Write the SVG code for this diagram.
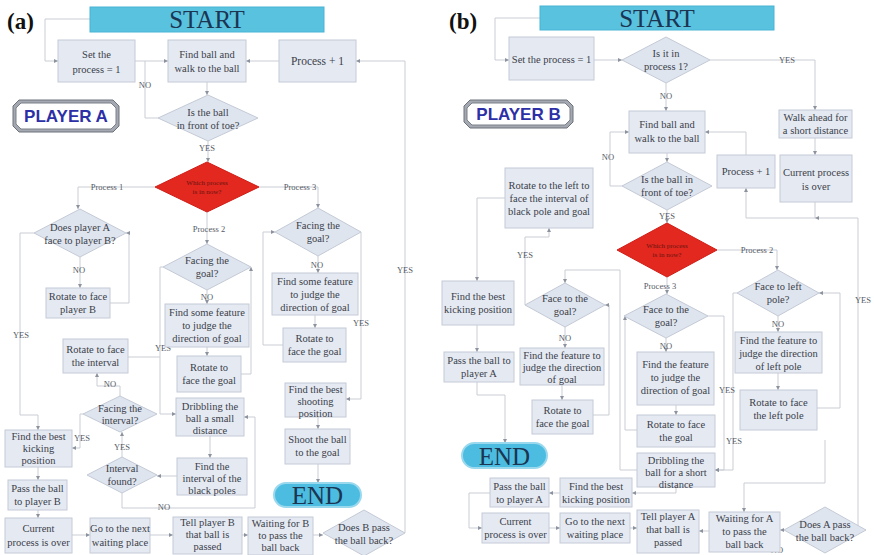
<svg xmlns="http://www.w3.org/2000/svg" width="874" height="555" viewBox="0 0 874 555">
<defs>
<marker id="ar" markerWidth="5" markerHeight="5" refX="4" refY="2.5" orient="auto" markerUnits="userSpaceOnUse"><path d="M0,0.5 L4,2.5 L0,4.5z" fill="#8d939e"/></marker>
<style>
.bx{fill:#e5eaf2;stroke:#c4cad6;stroke-width:1}
.dm{fill:#dfe5ee;stroke:#c4cad6;stroke-width:1}
.t{font-family:"Liberation Serif",serif;font-size:10.5px;fill:#3b404a;text-anchor:middle}
.lb{font-family:"Liberation Serif",serif;font-size:8.5px;fill:#555b66;text-anchor:middle}
.c{fill:none;stroke:#c9cdd4;stroke-width:1}
.ca{fill:none;stroke:#c9cdd4;stroke-width:1;marker-end:url(#ar)}
.st{fill:#58c2df;stroke:#48b4d4}
.big{font-family:"Liberation Serif",serif;font-size:25px;fill:#1b3552;text-anchor:middle}
.red{fill:#e2281f;stroke:#d01e18}
.rt{font-family:"Liberation Serif",serif;font-size:7px;fill:#6a1410;text-anchor:middle}
.end{fill:#4cbde0;stroke:#9ad8ee;stroke-width:2}
.pl{font-family:"Liberation Sans",sans-serif;font-weight:bold;font-size:17px;fill:#2d2fa6;text-anchor:middle}
.hd{font-family:"Liberation Serif",serif;font-weight:bold;font-size:23px;fill:#111}
</style>
</defs>
<rect width="874" height="555" fill="#ffffff"/>
<text class="hd" x="7" y="29">(a)</text>
<text class="hd" x="449" y="29">(b)</text>

<g id="connectors">
<!-- panel a -->
<path class="ca" d="M90,19 H45 V61 H58"/>
<path class="ca" d="M135,61 H168"/>
<path class="ca" d="M279,61 H246"/>
<path class="ca" d="M207,82 V95"/>
<path class="c" d="M158,118 H145 V61"/>
<path class="ca" d="M208,141 V162"/>
<path class="ca" d="M155,187 H78 V209"/>
<path class="ca" d="M259,187 H318 V208"/>
<path class="ca" d="M207,212 V244"/>
<path class="ca" d="M80,257 V288"/>
<path class="ca" d="M110,303 H129 V233 H126"/>
<path class="ca" d="M34,233 H20 V415 H38 V430"/>
<path class="ca" d="M207,290 V304"/>
<path class="ca" d="M207,347 V356"/>
<path class="ca" d="M241,374 H251 V267"/>
<path class="ca" d="M163,267 H160 V414 H176"/>
<path class="c" d="M128,357 H160"/>
<path class="ca" d="M120,396 V386 H97 V373"/>
<path class="ca" d="M210,436 V458"/>
<path class="ca" d="M177,476 H157"/>
<path class="ca" d="M122,493 V508 H255 V417 H244"/>
<path class="ca" d="M122,457 V432"/>
<path class="ca" d="M83,414 H80 V448 H72"/>
<path class="ca" d="M38,467 V480"/>
<path class="ca" d="M38,510 V518"/>
<path class="ca" d="M72,535 H90"/>
<path class="ca" d="M150,535 H173"/>
<path class="ca" d="M242,535 H248"/>
<path class="ca" d="M313,535 H323"/>
<path class="ca" d="M405,533 V61 H356"/>
<path class="ca" d="M318,256 V273"/>
<path class="ca" d="M315,315 V328"/>
<path class="ca" d="M283,345 H263 V232 H275"/>
<path class="ca" d="M361,232 V399 H346"/>
<path class="ca" d="M318,417 V429"/>
<path class="ca" d="M318,464 V483"/>
<!-- panel b -->
<path class="ca" d="M540,18 H495 V60 H509"/>
<path class="ca" d="M594,60 H622"/>
<path class="ca" d="M666,83 V111"/>
<path class="ca" d="M710,60 H815 V110"/>
<path class="ca" d="M815,138 V155"/>
<path class="ca" d="M815,202 V218 H746 V188"/>
<path class="ca" d="M746,155 V132 H705"/>
<path class="ca" d="M667,153 V162"/>
<path class="ca" d="M622,186 H610 V132 H629"/>
<path class="ca" d="M667,210 V223"/>
<path class="ca" d="M717,250 H777 V270"/>
<path class="ca" d="M667,277 V294"/>
<path class="ca" d="M778,316 V332"/>
<path class="ca" d="M778,373 V390"/>
<path class="ca" d="M817,408 H840 V293 H819"/>
<path class="ca" d="M737,293 H733 V470 H715"/>
<path class="ca" d="M666,338 V352"/>
<path class="ca" d="M676,405 V415"/>
<path class="ca" d="M637,430 H625 V316"/>
<path class="ca" d="M708,316 H724 V470 H715"/>
<path class="ca" d="M637,470 H620 V270 H565 V283"/>
<path class="ca" d="M565,327 V348"/>
<path class="ca" d="M562,385 V400"/>
<path class="ca" d="M593,415 H609 V305 H605"/>
<path class="ca" d="M525,305 V237 H549 V228"/>
<path class="ca" d="M505,198 H477 V281"/>
<path class="ca" d="M477,325 V352"/>
<path class="ca" d="M477,382 V395 H505 V443"/>
<path class="ca" d="M560,493 H549"/>
<path class="ca" d="M676,487 V493 H632"/>
<path class="ca" d="M490,493 H469 V528 H482"/>
<path class="ca" d="M549,528 H560"/>
<path class="ca" d="M630,528 H637"/>
<path class="ca" d="M709,531 H699"/>
<path class="ca" d="M784,530 H780"/>
<path class="ca" d="M825,440 V483 H744 V512"/>
<path class="ca" d="M866,530 H858 V218 H815"/>
</g>

<g id="labels">
<text class="lb" x="145" y="88">NO</text>
<text class="lb" x="207" y="151">YES</text>
<text class="lb" x="107" y="190">Process 1</text>
<text class="lb" x="300" y="190">Process 3</text>
<text class="lb" x="209" y="232">Process 2</text>
<text class="lb" x="79" y="273">NO</text>
<text class="lb" x="21" y="338">YES</text>
<text class="lb" x="207" y="300">NO</text>
<text class="lb" x="317" y="268">NO</text>
<text class="lb" x="361" y="326">YES</text>
<text class="lb" x="405" y="273">YES</text>
<text class="lb" x="163" y="351">YES</text>
<text class="lb" x="110" y="387">NO</text>
<text class="lb" x="122" y="450">YES</text>
<text class="lb" x="82" y="441">YES</text>
<text class="lb" x="164" y="510">NO</text>
<text class="lb" x="666" y="99">NO</text>
<text class="lb" x="787" y="63">YES</text>
<text class="lb" x="608" y="160">NO</text>
<text class="lb" x="667" y="219">YES</text>
<text class="lb" x="757" y="253">Process 2</text>
<text class="lb" x="660" y="289">Process 3</text>
<text class="lb" x="778" y="327">NO</text>
<text class="lb" x="863" y="303">YES</text>
<text class="lb" x="666" y="349">NO</text>
<text class="lb" x="727" y="393">YES</text>
<text class="lb" x="734" y="444">YES</text>
<text class="lb" x="525" y="258">YES</text>
<text class="lb" x="565" y="341">NO</text>
<text class="lb" x="777" y="553">NO</text>
</g>

<!-- ========== panel a nodes ========== -->
<g id="startA"><rect class="st" x="90" y="7" width="234" height="25"/><text class="big" x="207" y="28">START</text></g>
<g id="setA"><rect class="bx" x="58" y="40" width="77" height="42"/><text class="t" x="96.5" y="58">Set the</text><text class="t" x="96.5" y="73">process = 1</text></g>
<g id="findA"><rect class="bx" x="168" y="40" width="78" height="42"/><text class="t" x="207" y="58">Find ball and</text><text class="t" x="207" y="72">walk to the ball</text></g>
<g id="procA"><rect class="bx" x="279" y="40" width="77" height="42"/><text class="t" x="317.5" y="65" style="font-size:11.5px">Process + 1</text></g>
<g id="toeA"><polygon class="dm" points="158,118 208,95 258,118 208,141"/><text class="t" x="208" y="116">Is the ball</text><text class="t" x="208" y="129">in front of toe?</text></g>
<g id="redA"><polygon class="red" points="155,187 207,162 259,187 207,212"/><text class="rt" x="207" y="185">Which process</text><text class="rt" x="207" y="194">is in now?</text></g>
<g id="p1A"><polygon class="dm" points="34,233 80,209 126,233 80,257"/><text class="t" x="80" y="231">Does player A</text><text class="t" x="80" y="244">face to player B?</text></g>
<g id="rotBA"><rect class="bx" x="46" y="288" width="64" height="30"/><text class="t" x="78" y="300">Rotate to face</text><text class="t" x="78" y="313">player B</text></g>
<g id="fg2A"><polygon class="dm" points="163,267 207,244 251,267 207,290"/><text class="t" x="207" y="264">Facing the</text><text class="t" x="207" y="277">goal?</text></g>
<g id="ff2A"><rect class="bx" x="165" y="304" width="84" height="43"/><text class="t" x="207" y="316">Find some feature</text><text class="t" x="207" y="329">to judge the</text><text class="t" x="207" y="342">direction of goal</text></g>
<g id="rg2A"><rect class="bx" x="177" y="356" width="64" height="36"/><text class="t" x="209" y="371">Rotate to</text><text class="t" x="209" y="384">face the goal</text></g>
<g id="riA"><rect class="bx" x="63" y="339" width="65" height="34"/><text class="t" x="95.5" y="353">Rotate to face</text><text class="t" x="95.5" y="366">the interval</text></g>
<g id="fiA"><polygon class="dm" points="83,414 120,396 157,414 120,432"/><text class="t" x="120" y="412">Facing the</text><text class="t" x="120" y="424">interval?</text></g>
<g id="dribA"><rect class="bx" x="176" y="398" width="68" height="38"/><text class="t" x="210" y="410">Dribbling the</text><text class="t" x="210" y="422">ball a small</text><text class="t" x="210" y="434">distance</text></g>
<g id="ifA"><polygon class="dm" points="87,475 122,457 157,475 122,493"/><text class="t" x="122" y="472">Interval</text><text class="t" x="122" y="485">found?</text></g>
<g id="fintA"><rect class="bx" x="177" y="458" width="70" height="37"/><text class="t" x="212" y="470">Find the</text><text class="t" x="212" y="482">interval of the</text><text class="t" x="212" y="494">black poles</text></g>
<g id="kickA"><rect class="bx" x="5" y="430" width="67" height="37"/><text class="t" x="38.5" y="440">Find the best</text><text class="t" x="38.5" y="452">kicking</text><text class="t" x="38.5" y="464">position</text></g>
<g id="passA"><rect class="bx" x="8" y="480" width="59" height="30"/><text class="t" x="37.5" y="492">Pass the ball</text><text class="t" x="37.5" y="505">to player B</text></g>
<g id="curA"><rect class="bx" x="5" y="518" width="67" height="35"/><text class="t" x="38.5" y="532">Current</text><text class="t" x="38.5" y="546">process is over</text></g>
<g id="goA"><rect class="bx" x="90" y="518" width="60" height="35"/><text class="t" x="120" y="532">Go to the next</text><text class="t" x="120" y="546">waiting place</text></g>
<g id="tellA"><rect class="bx" x="173" y="517" width="69" height="37"/><text class="t" x="207.5" y="526">Tell player B</text><text class="t" x="207.5" y="538">that ball is</text><text class="t" x="207.5" y="550">passed</text></g>
<g id="waitA"><rect class="bx" x="248" y="517" width="65" height="38"/><text class="t" x="280.5" y="527">Waiting for B</text><text class="t" x="280.5" y="539">to pass the</text><text class="t" x="280.5" y="551">ball back</text></g>
<g id="doesBA"><polygon class="dm" points="323,533 364,510 405,533 364,556"/><text class="t" x="364" y="531">Does B pass</text><text class="t" x="364" y="544">the ball back?</text></g>
<g id="fg3A"><polygon class="dm" points="275,232 318,208 361,232 318,256"/><text class="t" x="318" y="229">Facing the</text><text class="t" x="318" y="242">goal?</text></g>
<g id="ff3A"><rect class="bx" x="272" y="273" width="86" height="42"/><text class="t" x="315" y="285">Find some feature</text><text class="t" x="315" y="298">to judge the</text><text class="t" x="315" y="311">direction of goal</text></g>
<g id="rg3A"><rect class="bx" x="283" y="328" width="63" height="34"/><text class="t" x="314.5" y="342">Rotate to</text><text class="t" x="314.5" y="355">face the goal</text></g>
<g id="shootposA"><rect class="bx" x="285" y="383" width="61" height="34"/><text class="t" x="315.5" y="393">Find the best</text><text class="t" x="315.5" y="405">shooting</text><text class="t" x="315.5" y="417">position</text></g>
<g id="shootA"><rect class="bx" x="285" y="429" width="65" height="35"/><text class="t" x="317.5" y="443">Shoot the ball</text><text class="t" x="317.5" y="456">to the goal</text></g>
<g id="endA"><rect class="end" x="274" y="483" width="87" height="24" rx="12"/><text class="big" x="317.5" y="504">END</text></g>
<g id="playerA"><polygon points="19,100 113,100 119,106 119,126 113,132 19,132 13,126 13,106" fill="#a4a8b0" stroke="#6d727c"/><polygon points="21,103 111,103 116,108 116,124 111,129 21,129 16,124 16,108" fill="#ffffff" stroke="#7b8089"/><text class="pl" x="66" y="122">PLAYER A</text></g>

<!-- ========== panel b nodes ========== -->
<g id="startB"><rect class="st" x="540" y="6" width="234" height="24"/><text class="big" x="657" y="27">START</text></g>
<g id="setB"><rect class="bx" x="509" y="37" width="85" height="43"/><text class="t" x="551.5" y="63">Set the process = 1</text></g>
<g id="proc1B"><polygon class="dm" points="622,60 666,37 710,60 666,83"/><text class="t" x="666" y="57">Is it in</text><text class="t" x="666" y="70">process 1?</text></g>
<g id="walkB"><rect class="bx" x="779" y="110" width="73" height="28"/><text class="t" x="815.5" y="121">Walk ahead  for</text><text class="t" x="815.5" y="134">a short distance</text></g>
<g id="curTopB"><rect class="bx" x="780" y="155" width="72" height="47"/><text class="t" x="816" y="176">Current process</text><text class="t" x="816" y="190">is over</text></g>
<g id="findB"><rect class="bx" x="629" y="111" width="76" height="42"/><text class="t" x="667" y="128">Find ball and</text><text class="t" x="667" y="142">walk to the ball</text></g>
<g id="procB"><rect class="bx" x="717" y="155" width="58" height="33"/><text class="t" x="746" y="175">Process + 1</text></g>
<g id="toeB"><polygon class="dm" points="622,186 667,162 712,186 667,210"/><text class="t" x="667" y="183">Is the ball in</text><text class="t" x="667" y="196">front of toe?</text></g>
<g id="redB"><polygon class="red" points="617,250 667,223 717,250 667,277"/><text class="rt" x="667" y="248">Which process</text><text class="rt" x="667" y="257">is in now?</text></g>
<g id="lpB"><polygon class="dm" points="737,293 778,270 819,293 778,316"/><text class="t" x="778" y="290">Face to left</text><text class="t" x="778" y="303">pole?</text></g>
<g id="flpB"><rect class="bx" x="735" y="332" width="87" height="41"/><text class="t" x="778.5" y="344">Find the feature to</text><text class="t" x="778.5" y="357">judge the direction</text><text class="t" x="778.5" y="370">of left pole</text></g>
<g id="rlpB"><rect class="bx" x="740" y="390" width="77" height="40"/><text class="t" x="778.5" y="406">Rotate to face</text><text class="t" x="778.5" y="419">the left pole</text></g>
<g id="fg3B"><polygon class="dm" points="624,316 666,294 708,316 666,338"/><text class="t" x="666" y="313">Face to the</text><text class="t" x="666" y="326">goal?</text></g>
<g id="ff3B"><rect class="bx" x="637" y="352" width="77" height="53"/><text class="t" x="675.5" y="368">Find the feature</text><text class="t" x="675.5" y="381">to judge the</text><text class="t" x="675.5" y="394">direction of goal</text></g>
<g id="rg3B"><rect class="bx" x="637" y="415" width="78" height="32"/><text class="t" x="676" y="428">Rotate to face</text><text class="t" x="676" y="441">the goal</text></g>
<g id="dribB"><rect class="bx" x="637" y="453" width="78" height="34"/><text class="t" x="676" y="464">Dribbling the</text><text class="t" x="676" y="476">ball for a short</text><text class="t" x="676" y="488">distance</text></g>
<g id="rotLB"><rect class="bx" x="505" y="168" width="88" height="60"/><text class="t" x="549" y="189">Rotate to the left to</text><text class="t" x="549" y="202">face the interval of</text><text class="t" x="549" y="215">black pole and goal</text></g>
<g id="fgLB"><polygon class="dm" points="525,305 565,283 605,305 565,327"/><text class="t" x="565" y="302">Face to the</text><text class="t" x="565" y="315">goal?</text></g>
<g id="ffLB"><rect class="bx" x="520" y="348" width="84" height="37"/><text class="t" x="562" y="359">Find the feature to</text><text class="t" x="562" y="371">judge the direction</text><text class="t" x="562" y="383">of goal</text></g>
<g id="rgLB"><rect class="bx" x="532" y="400" width="61" height="34"/><text class="t" x="562.5" y="414">Rotate to</text><text class="t" x="562.5" y="427">face the goal</text></g>
<g id="kickLB"><rect class="bx" x="442" y="281" width="72" height="44"/><text class="t" x="478" y="300">Find the best</text><text class="t" x="478" y="313">kicking position</text></g>
<g id="passLB"><rect class="bx" x="444" y="352" width="70" height="30"/><text class="t" x="479" y="364">Pass the ball to</text><text class="t" x="479" y="377">player A</text></g>
<g id="endB"><rect class="end" x="462" y="443" width="85" height="25" rx="12.5"/><text class="big" x="504.5" y="465">END</text></g>
<g id="passB"><rect class="bx" x="490" y="478" width="59" height="29"/><text class="t" x="519.5" y="490">Pass the ball</text><text class="t" x="519.5" y="503">to player A</text></g>
<g id="kickB"><rect class="bx" x="560" y="478" width="72" height="29"/><text class="t" x="596" y="490">Find the best</text><text class="t" x="596" y="503">kicking position</text></g>
<g id="curB"><rect class="bx" x="482" y="513" width="67" height="30"/><text class="t" x="515.5" y="525">Current</text><text class="t" x="515.5" y="538">process is over</text></g>
<g id="goB"><rect class="bx" x="560" y="513" width="70" height="30"/><text class="t" x="595" y="525">Go to the next</text><text class="t" x="595" y="538">waiting place</text></g>
<g id="tellB"><rect class="bx" x="637" y="510" width="62" height="43"/><text class="t" x="668" y="520">Tell player A</text><text class="t" x="668" y="533">that ball is</text><text class="t" x="668" y="546">passed</text></g>
<g id="waitB"><rect class="bx" x="709" y="512" width="71" height="40"/><text class="t" x="744.5" y="522">Waiting for A</text><text class="t" x="744.5" y="535">to pass the</text><text class="t" x="744.5" y="548">ball back</text></g>
<g id="doesAB"><polygon class="dm" points="784,530 825,507 866,530 825,553"/><text class="t" x="825" y="528">Does A pass</text><text class="t" x="825" y="541">the ball back?</text></g>
<g id="playerB"><polygon points="470,100 567,100 573,106 573,122 567,128 470,128 464,122 464,106" fill="#a4a8b0" stroke="#6d727c"/><polygon points="472,103 565,103 570,108 570,120 565,125 472,125 467,120 467,108" fill="#ffffff" stroke="#7b8089"/><text class="pl" x="518.5" y="120">PLAYER B</text></g>
</svg>
